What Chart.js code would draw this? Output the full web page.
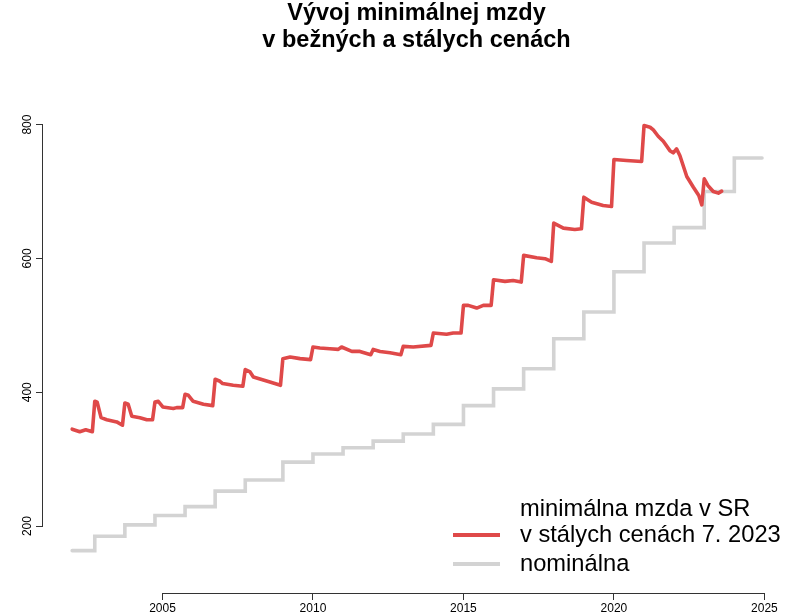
<!DOCTYPE html>
<html lang="sk">
<head>
    <meta charset="UTF-8">
    <title>Vývoj minimálnej mzdy</title>
    <script src="https://cdn.jsdelivr.net/npm/chart.js"></script>
    <style>
        body { margin: 0; padding: 0; background: #fff; }
        .wrap { width: 800px; height: 615px; }
    </style>
</head>
<body>
    <div class="wrap"><canvas id="mzdaChart" width="800" height="615"></canvas></div>

    <script>
        // minimálna mzda v stálych cenách 7. 2023 (EUR), odčítané z grafu
        const realYears = [
            2002.00, 2002.25, 2002.45, 2002.67, 2002.75, 2002.83, 2002.96, 2003.15, 2003.48, 2003.67,
            2003.75, 2003.86, 2003.98, 2004.25, 2004.48, 2004.67, 2004.75, 2004.86, 2005.01, 2005.36,
            2005.47, 2005.67, 2005.75, 2005.86, 2006.02, 2006.36, 2006.67, 2006.75, 2006.91, 2007.00,
            2007.35, 2007.67, 2007.75, 2007.91, 2008.02, 2008.57, 2008.92, 2009.00, 2009.24, 2009.57,
            2009.92, 2010.00, 2010.23, 2010.56, 2010.84, 2010.95, 2011.29, 2011.56, 2011.92, 2012.00,
            2012.23, 2012.56, 2012.92, 2013.00, 2013.33, 2013.92, 2014.00, 2014.44, 2014.66, 2014.92,
            2015.00, 2015.16, 2015.44, 2015.66, 2015.92, 2016.00, 2016.38, 2016.65, 2016.92, 2017.00,
            2017.43, 2017.71, 2017.92, 2018.00, 2018.32, 2018.70, 2018.92, 2019.00, 2019.26, 2019.64,
            2019.92, 2020.00, 2020.42, 2020.92, 2021.00, 2021.20, 2021.31, 2021.47, 2021.64, 2021.86,
            2021.97, 2022.08, 2022.19, 2022.42, 2022.64, 2022.82, 2022.92, 2023.00, 2023.12, 2023.30,
            2023.47, 2023.58
        ];
        const realValues = [
            344.8, 341, 344, 341, 386.5, 385, 362, 359, 355.7, 350.7,
            384, 382, 364, 362, 359, 359, 385.5, 386.5, 378, 375.7,
            377, 377, 397, 395.5, 386.5, 382, 380, 419.4, 416.4, 413,
            410.4, 409, 433.8, 430.3, 422.8, 415.4, 410.4, 450.2, 452.7, 450.2,
            448.8, 467.6, 466, 465, 464, 467.6, 461, 461, 456, 464,
            461, 459, 456, 468.6, 467.6, 470, 488.5, 486.6, 488.5, 488.5,
            529.8, 529.8, 525.8, 529.8, 529.8, 568.2, 565.7, 567, 564.6, 604.5,
            601, 599.6, 595.5, 652.7, 645.2, 643.3, 644.3, 691.5, 684, 679,
            677.6, 747.8, 746.3, 744.8, 798.5, 796, 792, 782.5, 775, 761,
            757.7, 763.7, 753.7, 722.4, 706.4, 694, 680, 718.9, 709, 700,
            697.5, 700.5
        ];

        // nominálna minimálna mzda (EUR) a dátum platnosti
        const nominalYears = [
            2002.00, 2002.75, 2003.75, 2004.75, 2005.75, 2006.75, 2007.75, 2009, 2010, 2011,
            2012, 2013, 2014, 2015, 2016, 2017, 2018, 2019, 2020, 2021,
            2022, 2023, 2024
        ];
        const nominalValues = [
            163.3, 184.9, 201.8, 215.8, 229.0, 252.3, 268.9, 295.5, 307.7, 317,
            327, 337.7, 352, 380, 405, 435, 480, 520, 580, 623,
            646, 700, 750
        ];
        const nominalEnd = 2024.92;

        const xTicks = [2005, 2010, 2015, 2020, 2025];
        const yTicks = [200, 400, 600, 800];

        const titleLines = ['Vývoj minimálnej mzdy', 'v bežných a stálych cenách'];
        const legendTitle = 'minimálna mzda v SR';
        const seriesLabels = ['v stálych cenách 7. 2023', 'nominálna'];

        const realPoints = realYears.map((x, i) => ({ x: x, y: realValues[i] }));
        const nominalPoints = nominalYears.map((x, i) => ({ x: x, y: nominalValues[i] }));
        nominalPoints.push({ x: nominalEnd, y: nominalValues[nominalValues.length - 1] });

        const FONT = '"Liberation Sans", Arial, sans-serif';

        // osi v štýle R: čiara len od prvého po posledný tick, popisy y otočené
        const rAxes = {
            id: 'rAxes',
            afterDraw(chart) {
                const ctx = chart.ctx;
                const xs = chart.scales.x, ys = chart.scales.y;
                const area = chart.chartArea;
                ctx.save();
                ctx.strokeStyle = '#333';
                ctx.lineWidth = 1;
                ctx.beginPath();
                const yb = Math.round(area.bottom) + 0.5;
                ctx.moveTo(xs.getPixelForValue(xTicks[0]), yb);
                ctx.lineTo(xs.getPixelForValue(xTicks[xTicks.length - 1]), yb);
                const xl = Math.round(area.left) - 0.5;
                ctx.moveTo(xl, ys.getPixelForValue(yTicks[0]));
                ctx.lineTo(xl, ys.getPixelForValue(yTicks[yTicks.length - 1]));
                ctx.stroke();

                ctx.fillStyle = '#000';
                ctx.font = '12px ' + FONT;
                ctx.textAlign = 'center';
                ctx.textBaseline = 'middle';
                yTicks.forEach(v => {
                    ctx.save();
                    ctx.translate(area.left - 15, ys.getPixelForValue(v));
                    ctx.rotate(-Math.PI / 2);
                    ctx.fillText(String(v), 0, 0);
                    ctx.restore();
                });
                ctx.restore();
            }
        };

        // legenda bez rámčeka vpravo dole
        const rLegend = {
            id: 'rLegend',
            afterDraw(chart) {
                const ctx = chart.ctx;
                ctx.save();
                ctx.font = '23.7px ' + FONT;
                ctx.fillStyle = '#000';
                ctx.textAlign = 'left';
                ctx.textBaseline = 'alphabetic';
                ctx.fillText(legendTitle, 520, 516);
                const rows = [535, 564];
                chart.data.datasets.forEach((ds, i) => {
                    ctx.strokeStyle = ds.borderColor;
                    ctx.lineWidth = 4;
                    ctx.lineCap = 'butt';
                    ctx.beginPath();
                    ctx.moveTo(453, rows[i]);
                    ctx.lineTo(500, rows[i]);
                    ctx.stroke();
                    ctx.fillText(ds.label, 520, rows[i] + 7);
                });
                ctx.restore();
            }
        };

        new Chart(document.getElementById('mzdaChart'), {
            type: 'line',
            data: {
                datasets: [
                    {
                        label: seriesLabels[0],
                        data: realPoints,
                        borderColor: '#df4949',
                        borderWidth: 3.6,
                        borderCapStyle: 'round',
                        borderJoinStyle: 'round',
                        pointRadius: 0,
                        tension: 0
                    },
                    {
                        label: seriesLabels[1],
                        data: nominalPoints,
                        borderColor: '#d3d3d3',
                        borderWidth: 3.6,
                        borderCapStyle: 'round',
                        stepped: 'before',
                        pointRadius: 0
                    }
                ]
            },
            options: {
                responsive: false,
                animation: false,
                layout: { padding: { left: 0, right: 10, top: 0, bottom: 0 } },
                plugins: {
                    legend: { display: false },
                    tooltip: { enabled: false },
                    title: {
                        display: true,
                        fullSize: false,
                        text: titleLines,
                        color: '#000',
                        font: { family: FONT, size: 23.5, weight: 'bold', lineHeight: 1.149 },
                        padding: { top: 0, bottom: 54.5 }
                    }
                },
                scales: {
                    x: {
                        type: 'linear',
                        min: 2001.03,
                        max: 2025.85,
                        border: { display: false },
                        grid: { display: true, drawOnChartArea: false, drawTicks: true, tickLength: 7, color: '#333' },
                        afterBuildTicks: s => { s.ticks = xTicks.map(v => ({ value: v })); },
                        afterFit: s => { s.height = 22; },
                        ticks: {
                            color: '#000',
                            padding: 1,
                            maxRotation: 0,
                            font: { family: FONT, size: 12 },
                            callback: v => String(v)
                        }
                    },
                    y: {
                        type: 'linear',
                        min: 100,
                        max: 824,
                        border: { display: false },
                        grid: { display: true, drawOnChartArea: false, drawTicks: true, tickLength: 7, color: '#333' },
                        afterBuildTicks: s => { s.ticks = yTicks.map(v => ({ value: v })); },
                        afterFit: s => { s.width = 43; },
                        ticks: { display: false }
                    }
                }
            },
            plugins: [rAxes, rLegend]
        });
    </script>
</body>
</html>
